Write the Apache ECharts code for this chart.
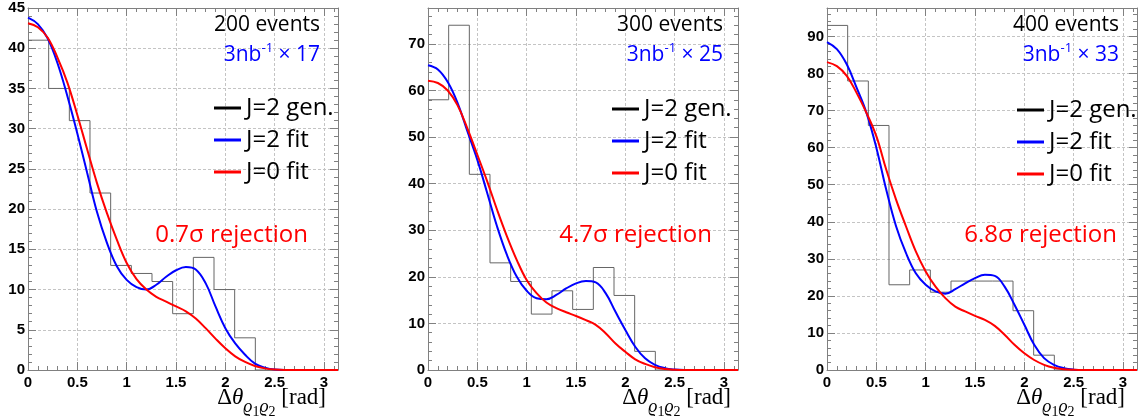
<!DOCTYPE html>
<html>
<head>
<meta charset="utf-8">
<script src="https://cdn.jsdelivr.net/npm/echarts@6/dist/echarts.min.js"></script>
<style>
  html, body { margin: 0; padding: 0; background: #fff; }
  #chartdiv { width: 1147px; height: 418px; }
</style>
</head>
<body>
<div id="chartdiv"></div>
<script>
// 15 bins over [0, pi]
const BIN_EDGES = [0, 0.2094, 0.4189, 0.6283, 0.8378, 1.0472, 1.2566, 1.4661, 1.6755, 1.8850,
  2.0944, 2.3038, 2.5133, 2.7227, 2.9322, 3.1416];
const X_MAX = 3.1416;

// generated J=2 histograms (counts per bin)
const HIST_200 = [41, 35, 31, 22, 13, 12, 11, 7, 14, 10, 4, 0, 0, 0, 0];
const HIST_300 = [58, 74, 42, 23, 19, 12, 17, 13, 22, 16, 4, 0, 0, 0, 0];
const HIST_400 = [93, 78, 66, 23, 27, 21, 24, 24, 24, 16, 4, 0, 0, 0, 0];

// fit curves sampled at these x values
const X_FIT = [0, 0.1, 0.2, 0.3, 0.4, 0.5, 0.6, 0.7, 0.8, 0.9, 1.0, 1.1, 1.2, 1.3, 1.4,
  1.5, 1.6, 1.7, 1.8, 1.9, 2.0, 2.1, 2.2, 2.3, 2.4, 2.5, 2.6, 3.1416];

const J2_FIT_200 = [43.8, 43.0, 41.2, 38.1, 34.0, 29.4, 24.5, 19.6, 15.8, 12.9, 11.2, 10.3, 10.0, 10.6,
  11.6, 12.4, 12.8, 12.5, 10.8, 7.9, 5.2, 3.3, 1.9, 0.8, 0.3, 0.05, 0, 0];
const J0_FIT_200 = [43.1, 42.6, 41.3, 38.8, 35.7, 31.7, 27.4, 23.2, 19.5, 16.2, 13.3, 11.3, 10.0, 9.1,
  8.5, 7.9, 7.3, 6.4, 5.2, 3.9, 2.7, 1.7, 1.0, 0.5, 0.2, 0.05, 0, 0];

const J2_FIT_300 = [65.4, 64.5, 61.8, 57.3, 51.2, 45.1, 38.0, 30.8, 24.7, 20.0, 17.0, 15.4, 15.2, 16.1,
  17.5, 18.6, 19.1, 18.8, 16.5, 12.5, 8.6, 5.0, 2.5, 1.1, 0.4, 0.1, 0, 0];
const J0_FIT_300 = [62.1, 61.6, 60.0, 56.8, 51.8, 46.2, 40.5, 34.4, 28.7, 23.6, 19.3, 16.5, 14.5, 13.3,
  12.4, 11.6, 10.7, 9.7, 7.9, 5.7, 3.9, 2.3, 1.3, 0.6, 0.2, 0.05, 0, 0];

const J2_FIT_400 = [88.5, 86.6, 82.5, 76.2, 69.4, 60.0, 48.7, 38.8, 31.6, 26.1, 23.0, 21.2, 20.6, 21.8,
  23.4, 24.8, 25.7, 25.4, 22.5, 17.6, 12.2, 6.8, 3.2, 1.4, 0.5, 0.1, 0, 0];
const J0_FIT_400 = [83.1, 82.0, 79.4, 74.8, 69.4, 63.1, 54.1, 46.0, 38.8, 32.0, 26.6, 22.5, 19.4, 17.1,
  15.8, 14.6, 13.5, 11.9, 9.5, 6.8, 4.5, 2.7, 1.4, 0.6, 0.2, 0.05, 0, 0];

const EVENTS = ["200 events", "300 events", "400 events"];
const LUMI_FACTOR = ["17", "25", "33"];
const REJECTION = ["0.7σ rejection", "4.7σ rejection", "6.8σ rejection"];
const LEGEND_NAMES = ["J=2 gen.", "J=2 fit", "J=0 fit"];
const Y_MAX = [45, 77.7, 97.7];
const Y_INTERVAL = [5, 10, 10];

const PANELS = [
  { hist: HIST_200, j2: J2_FIT_200, j0: J0_FIT_200 },
  { hist: HIST_300, j2: J2_FIT_300, j0: J0_FIT_300 },
  { hist: HIST_400, j2: J2_FIT_400, j0: J0_FIT_400 }
];

// layout (px)
const GRID_LEFT = [28, 428, 827];
const GRID_W = 310;
const TEXT_RIGHT = [827, 424, 28];      // events / luminosity text
const REJ_RIGHT = [839, 435, 30];
const AXNAME_RIGHT = [821, 416, 22];
const LEG_LEFT = [214, 612, 1017];
const LEG_TOP = [96, 97, 98];

const BLUE = "#0000ff";
const RED = "#ff0000";
const FRAME = "#808080";
const SANS = "Open Sans";
const SERIF = "Liberation Serif";

function onMultiple(v, step) {
  const r = v / step;
  return Math.abs(r - Math.round(r)) < 1e-6;
}

function buildOption() {
  const grid = [], xAxis = [], yAxis = [], series = [], legend = [], title = [];

  PANELS.forEach((p, i) => {
    grid.push({ left: GRID_LEFT[i], top: 8, width: GRID_W, height: 362 });

    const tick = { show: true, inside: true, length: 8, lineStyle: { color: FRAME } };
    const minor = { show: true, splitNumber: 5, length: 4, lineStyle: { color: FRAME } };
    const line = { show: true, onZero: false, lineStyle: { color: FRAME, width: 1 } };
    const dashed = { show: true, lineStyle: { color: "#c4c4c4", type: [3, 2], width: 1 } };
    const labelFont = { fontFamily: "Liberation Sans", fontWeight: "bold", fontSize: 15, color: "#000" };

    xAxis.push({
      type: "value", gridIndex: i, min: 0, max: X_MAX, interval: 0.5, position: "bottom",
      axisLine: line, axisTick: tick, minorTick: minor, splitLine: dashed,
      axisLabel: Object.assign({ margin: 5, formatter: v => onMultiple(v, 0.5) ? String(v) : "" }, labelFont)
    });
    xAxis.push({
      type: "value", gridIndex: i, min: 0, max: X_MAX, interval: 0.5, position: "top",
      axisLine: line, axisTick: tick, minorTick: minor, splitLine: { show: false },
      axisLabel: { show: false }
    });
    yAxis.push({
      type: "value", gridIndex: i, min: 0, max: Y_MAX[i], interval: Y_INTERVAL[i], position: "left",
      axisLine: line, axisTick: tick, minorTick: minor, splitLine: dashed,
      axisLabel: Object.assign({ margin: 3, formatter: v => onMultiple(v, Y_INTERVAL[i]) ? String(v) : "" }, labelFont)
    });
    yAxis.push({
      type: "value", gridIndex: i, min: 0, max: Y_MAX[i], interval: Y_INTERVAL[i], position: "right",
      axisLine: line, axisTick: tick, minorTick: minor, splitLine: { show: false },
      axisLabel: { show: false }
    });

    const xi = 2 * i, yi = 2 * i;
    const histData = BIN_EDGES.map((x, k) => [x, p.hist[Math.min(k, p.hist.length - 1)]]);
    series.push({
      name: LEGEND_NAMES[0], type: "line", step: "end", xAxisIndex: xi, yAxisIndex: yi,
      data: histData, showSymbol: false, symbol: "none", color: "#666",
      lineStyle: { color: "#666", width: 1 }, z: 2
    });
    series.push({
      name: LEGEND_NAMES[1], type: "line", smooth: 0.4, xAxisIndex: xi, yAxisIndex: yi,
      data: X_FIT.map((x, k) => [x, p.j2[k]]), showSymbol: false, symbol: "none", color: BLUE,
      lineStyle: { color: BLUE, width: 2 }, z: 3
    });
    series.push({
      name: LEGEND_NAMES[2], type: "line", smooth: 0.4, xAxisIndex: xi, yAxisIndex: yi,
      data: X_FIT.map((x, k) => [x, p.j0[k]]), showSymbol: false, symbol: "none", color: RED,
      lineStyle: { color: RED, width: 2 }, z: 4
    });

    legend.push({
      left: LEG_LEFT[i], top: LEG_TOP[i], orient: "vertical", padding: 0, itemGap: 8,
      itemWidth: 27, itemHeight: 3, icon: "rect", selectedMode: false,
      textStyle: { fontFamily: SANS, fontSize: 24, lineHeight: 24, color: "#000" },
      data: [
        { name: LEGEND_NAMES[0], itemStyle: { color: "#000" } },
        { name: LEGEND_NAMES[1], itemStyle: { color: BLUE } },
        { name: LEGEND_NAMES[2], itemStyle: { color: RED } }
      ]
    });

    title.push({
      text: EVENTS[i], right: TEXT_RIGHT[i], top: 12, padding: 0,
      textStyle: { fontFamily: SANS, fontWeight: "normal", fontSize: 21, lineHeight: 26, color: "#000" }
    });
    title.push({
      text: "{m|3nb}{sup|-1}{m| × " + LUMI_FACTOR[i] + "}", right: TEXT_RIGHT[i], top: 42, padding: 0,
      textStyle: {
        rich: {
          m: { fontFamily: SANS, fontWeight: "normal", fontSize: 21, color: BLUE, lineHeight: 24, verticalAlign: "bottom" },
          sup: { fontFamily: SANS, fontWeight: "normal", fontSize: 13, color: BLUE, lineHeight: 13, verticalAlign: "top" }
        }
      }
    });
    title.push({
      text: REJECTION[i], right: REJ_RIGHT[i], top: 221, padding: 0,
      textStyle: { fontFamily: SANS, fontWeight: "normal", fontSize: 24, lineHeight: 28, color: RED }
    });
    // x axis name with subscript, lowered through top padding
    title.push({
      text: "{d|Δ}{t|θ}{s|ϱ}{n|1}{s|ϱ}{n|2}{d| [rad]}", right: AXNAME_RIGHT[i], top: 386, padding: 0,
      textStyle: {
        rich: {
          d: { fontFamily: SERIF, fontWeight: "normal", fontSize: 23, color: "#000", verticalAlign: "top" },
          t: { fontFamily: SERIF, fontWeight: "normal", fontSize: 23, fontStyle: "italic", color: "#000", verticalAlign: "top" },
          s: { fontFamily: SERIF, fontWeight: "normal", fontSize: 18, fontStyle: "italic", color: "#000", verticalAlign: "top", padding: [12, 0, 0, 0] },
          n: { fontFamily: SERIF, fontWeight: "normal", fontSize: 14, color: "#000", verticalAlign: "top", padding: [19, 0, 0, 0] }
        }
      }
    });
  });

  return { animation: false, backgroundColor: "#fff", grid, xAxis, yAxis, series, legend, title };
}

const chart = echarts.init(document.getElementById("chartdiv"), null, { renderer: "canvas" });
chart.setOption(buildOption());
</script>
</body>
</html>
